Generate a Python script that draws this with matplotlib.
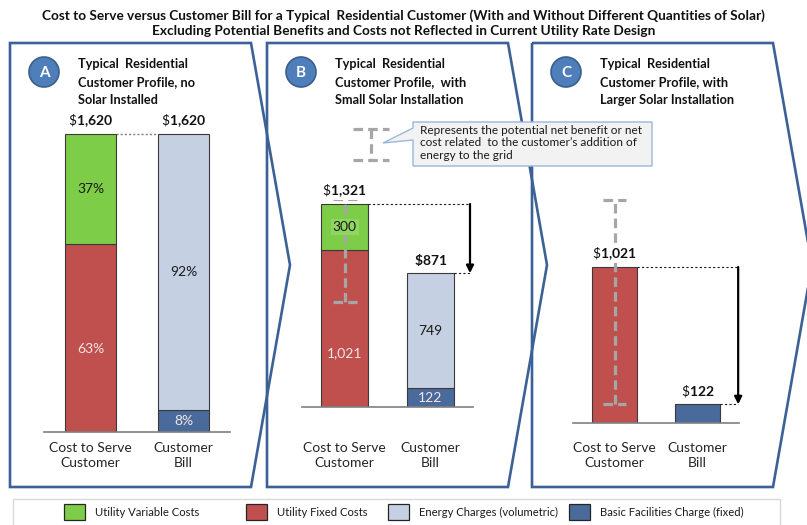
import matplotlib
matplotlib.use("Agg")
import matplotlib.pyplot as plt
from matplotlib.patches import Polygon, Circle, Rectangle

plt.rcParams['font.family'] = ['Lato', 'DejaVu Sans']
plt.rcParams['mathtext.fontset'] = 'custom'
plt.rcParams['mathtext.rm'] = 'Lato'
plt.rcParams['mathtext.bf'] = 'Lato:bold'

W, H = 807, 525

# ---- data ----
TITLE = ("Cost to Serve versus Customer Bill for a Typical  Residential Customer (With and Without Different Quantities of Solar)\n"
         "Excluding Potential Benefits and Costs not Reflected in Current Utility Rate Design")
LETTERS = ["A", "B", "C"]
HEADINGS = ["Typical  Residential\nCustomer Profile, no\nSolar Installed",
            "Typical  Residential\nCustomer Profile,  with\nSmall Solar Installation",
            "Typical  Residential\nCustomer Profile, with\nLarger Solar Installation"]
CATEGORIES = ["Cost to Serve\nCustomer", "Customer\nBill"]
SERIES = ["Utility Variable Costs", "Utility Fixed Costs",
          "Energy Charges (volumetric)", "Basic Facilities Charge (fixed)"]
COLORS = ["#7dcd48", "#c0504d", "#c5d0e2", "#4a6a9b"]

VARIABLE_COST = [599, 300, 0]
FIXED_COST = [1021, 1021, 1021]
ENERGY_CHARGE = [1498, 749, 0]
BASIC_CHARGE = [122, 122, 122]
LABEL_MODE = ["pct", "value", None]
# potential net benefit / cost range (I-beam), in $
NET_RANGE = [None, (683, 1353), (124, 1459)]
CALLOUT = "Represents the potential net benefit or net\ncost related  to the customer\u2019s addition of\nenergy to the grid"

# ---- layout (pixels) ----
PANEL_LEFT = [10, 267, 532]
PANEL_TOP, PANEL_BOTTOM, SHOULDER, CHEVRON = 43, 487, 241, 39
AX_BOX = [(44, 230, 432), (302, 473, 407), (573, 739, 423)]
PX_PER_USD = [298 / 1620, 203 / 1321, 156 / 1021]
ARROW_X = [None, 1.465, 1.49]
RED_LABEL_FRAC = [0.44, 0.34, 0.5]
LABEL_TOP_PX = 442
LINE_BLUE = "#3b6196"

fig = plt.figure(figsize=(W / 100, H / 100), dpi=100)
bg = fig.add_axes([0, 0, 1, 1])
bg.set_xlim(0, W)
bg.set_ylim(H, 0)
bg.axis("off")

bg.text(W / 2, 23, TITLE, ha="center", va="center", fontsize=9.8, fontweight="bold",
        linespacing=1.25, color="#111111")

for i in range(3):
    x0 = PANEL_LEFT[i]
    pts = [(x0, PANEL_TOP), (x0 + SHOULDER, PANEL_TOP),
           (x0 + SHOULDER + CHEVRON, (PANEL_TOP + PANEL_BOTTOM) / 2),
           (x0 + SHOULDER, PANEL_BOTTOM), (x0, PANEL_BOTTOM)]
    bg.add_patch(Polygon(pts, closed=True, fill=False, edgecolor=LINE_BLUE, lw=1.9,
                         joinstyle="miter", clip_on=False))
    cx = x0 + 34
    bg.add_patch(Circle((cx, 72), 15, facecolor="#4f7fba", edgecolor="#3a5f8f", lw=1.2))
    bg.text(cx, 73, LETTERS[i], ha="center", va="center", color="white",
            fontsize=11, fontweight="bold")
    bg.text(x0 + 68, 82, HEADINGS[i], ha="left", va="center", fontsize=9.2,
            fontweight="bold", linespacing=1.6, color="#111111")

# callout with I-beam legend symbol
ibeam_kw = dict(color="#a6a6a6", lw=2.3, ls=(0, (3, 1.6)), solid_capstyle="butt")
bg.plot([353, 389], [129, 129], **ibeam_kw)
bg.plot([371, 371], [129, 160], **ibeam_kw)
bg.plot([353, 389], [160, 160], **ibeam_kw)
call_pts = [(413, 122), (652, 122), (652, 166), (413, 166), (413, 140), (383, 143), (413, 128)]
bg.add_patch(Polygon(call_pts, closed=True, facecolor="#f2f2f2", edgecolor="#9bb7dc", lw=1.0,
                     zorder=5))
bg.text(420, 143, CALLOUT, ha="left", va="center", fontsize=8.5, linespacing=1.15,
        color="#1a1a1a", zorder=6)

# legend
bg.add_patch(Rectangle((13, 499), 767, 40, facecolor="white", edgecolor="#d9d9d9", lw=1.0,
                       clip_on=False))
LEG_SQ_X = [64, 246, 388, 569]
for name, col, lx in zip(SERIES, COLORS, LEG_SQ_X):
    bg.add_patch(Rectangle((lx, 504), 21, 16, facecolor=col, edgecolor="#262626", lw=0.9))
    bg.text(lx + 31, 512, name, ha="left", va="center", fontsize=8.1, color="#1a1a1a")


def usd(v, bold_sign=False):
    s = f"{v:,}".replace(",", "{,}")
    if bold_sign:
        return r"$\mathbf{\$" + s + "}$"
    return r"\$" + r"$\mathbf{" + s + "}$"


for i in range(3):
    l, r, base = AX_BOX[i]
    top = 95
    ax = fig.add_axes([l / W, 1 - base / H, (r - l) / W, (base - top) / H])
    ax.patch.set_alpha(0)
    ax.set_xlim(-0.5, 1.5)
    ax.set_ylim(0, (base - top) / PX_PER_USD[i])
    for s in ["top", "left", "right"]:
        ax.spines[s].set_visible(False)
    ax.spines["bottom"].set_color("#808080")
    ax.spines["bottom"].set_linewidth(1.2)
    ax.set_yticks([])
    ax.set_xticks([0, 1], CATEGORIES)
    ax.tick_params(axis="x", length=0, pad=(LABEL_TOP_PX - base) * 0.72,
                   labelsize=10, labelcolor="#262626")
    for t in ax.get_xticklabels():
        t.set_linespacing(1.3)

    bw = 0.55
    cost = [FIXED_COST[i], VARIABLE_COST[i]]
    bill = [BASIC_CHARGE[i], ENERGY_CHARGE[i]]
    cost_cols = [COLORS[1], COLORS[0]]
    bill_cols = [COLORS[3], COLORS[2]]
    cost_total = sum(cost)
    bill_total = sum(bill)

    for xpos, segs, cols, total in [(0, cost, cost_cols, cost_total), (1, bill, bill_cols, bill_total)]:
        bottom = 0
        for j, (v, c) in enumerate(zip(segs, cols)):
            if v <= 0:
                continue
            ax.bar(xpos, v, bw, bottom=bottom, color=c, edgecolor="#3a3a3a", lw=0.8, zorder=2)
            mode = LABEL_MODE[i]
            if mode is not None:
                txt = f"{round(100 * v / total)}%" if mode == "pct" else f"{v:,}"
                dark = c in (COLORS[1], COLORS[3])
                frac = RED_LABEL_FRAC[i] if c == COLORS[1] else 0.5
                bbox = None
                if c == COLORS[0] and mode == "value":
                    bbox = dict(boxstyle="square,pad=0.15", facecolor="#8fd562", edgecolor="none")
                ax.text(xpos, bottom + v * frac, txt, ha="center", va="center", fontsize=10,
                        color="#f2e6e6" if dark else "#1a1a1a", zorder=6, bbox=bbox)
            bottom += v

    top_bbox = dict(boxstyle="square,pad=0.05", facecolor="white", edgecolor="none")
    ax.annotate(usd(cost_total), xy=(0, cost_total), xytext=(0, 5), textcoords="offset pixels",
                ha="center", va="bottom", fontsize=10, color="#111111", zorder=7, bbox=top_bbox)
    ax.annotate(usd(bill_total, bold_sign=(i == 1)), xy=(1, bill_total), xytext=(0, 5),
                textcoords="offset pixels", ha="center", va="bottom", fontsize=10,
                color="#111111", zorder=7, bbox=top_bbox)

    if i == 0:
        ax.plot([bw / 2, 1 - bw / 2], [cost_total, cost_total], ls=(0, (1.5, 1.5)),
                color="#7f7f7f", lw=1.0, zorder=1)
    else:
        xa = ARROW_X[i]
        ax.plot([bw / 2, xa], [cost_total, cost_total], ls=(0, (2, 2)), color="#1a1a1a",
                lw=0.8, clip_on=False)
        ax.plot([1 + bw / 2, xa], [bill_total, bill_total], ls=(0, (2, 2)), color="#1a1a1a",
                lw=0.8, clip_on=False)
        ax.annotate("", xy=(xa, bill_total), xytext=(xa, cost_total),
                    arrowprops=dict(arrowstyle="-|>", color="black", lw=1.6, mutation_scale=11,
                                    shrinkA=0, shrinkB=0), annotation_clip=False)

    if NET_RANGE[i] is not None:
        lo, hi = NET_RANGE[i]
        hw = 0.14
        ax.plot([-hw, hw], [hi, hi], zorder=4, **ibeam_kw)
        ax.plot([0, 0], [lo, hi], zorder=4, **ibeam_kw)
        ax.plot([-hw, hw], [lo, lo], zorder=4, **ibeam_kw)

fig.savefig("out.png", dpi=100)
